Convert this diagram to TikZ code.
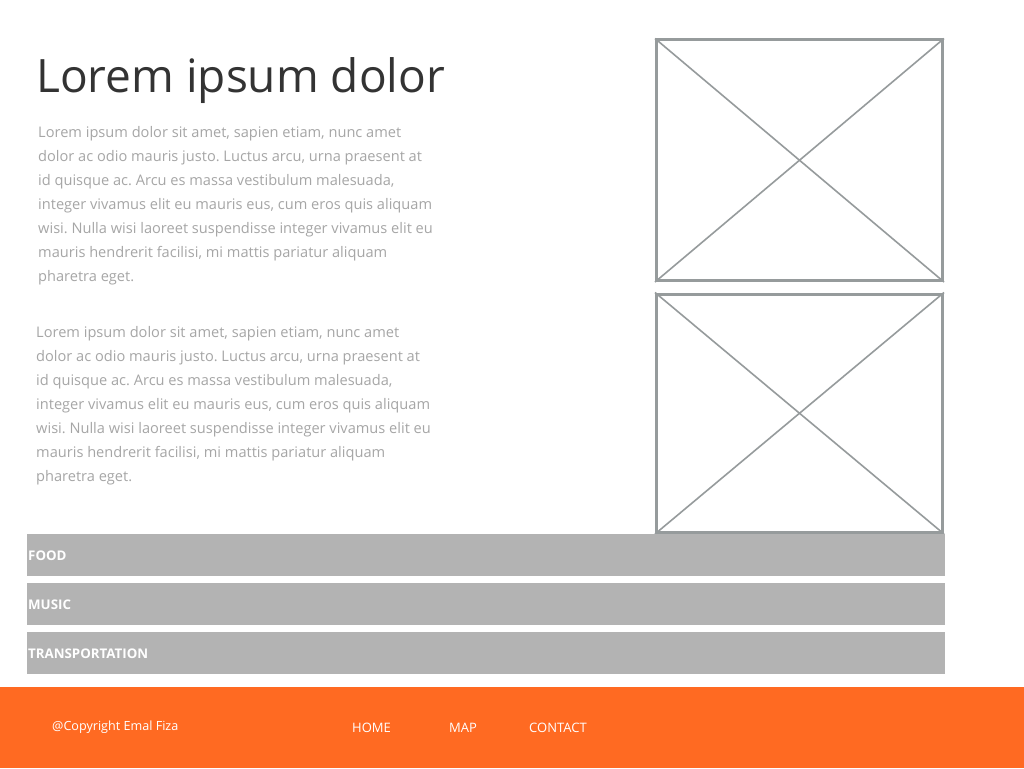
\documentclass[tikz,border=0pt]{standalone}
\usepackage{fontspec}
\setmainfont{Open Sans}
\frenchspacing
\definecolor{titlegray}{HTML}{333333}
\definecolor{bodygray}{HTML}{A6A6A6}
\definecolor{framegray}{HTML}{969B9C}
\definecolor{bargray}{HTML}{B3B3B3}
\definecolor{footorange}{HTML}{FF6A22}
\begin{document}
\begin{tikzpicture}[x=1pt,y=-1pt,
  title/.style={anchor=base west,inner sep=0pt,text=titlegray,font=\fontsize{46}{50}\selectfont},
  para/.style={anchor=north west,inner sep=0pt,align=left,text=bodygray,font=\fontsize{14.6}{24}\selectfont},
  imgbox/.style={draw=framegray,line width=3pt,minimum width=286pt,minimum height=240.5pt,inner sep=0pt,anchor=north west},
  cross/.style={draw=framegray,line width=1.6pt},
  bar/.style={fill=bargray,minimum width=918pt,minimum height=42pt,inner sep=0pt,anchor=north west},
  barlabel/.style={anchor=west,inner sep=0pt,text=white,font=\fontsize{13.3}{15}\selectfont\bfseries},
  footer/.style={fill=footorange,minimum width=1024pt,minimum height=81pt,inner sep=0pt,anchor=north west},
  footlink/.style={anchor=west,inner sep=0pt,text=white,font=\fontsize{13}{15}\selectfont}]
\useasboundingbox (0,0) rectangle (1024,768);
\fill[white] (0,0) rectangle (1024,768);

% heading and body copy
\node[title] (head) at (36,92) {Lorem ipsum dolor};
\node[para] (p1) at (38,120.5) {\strut Lorem ipsum dolor sit amet, sapien etiam, nunc amet\\
dolor ac odio mauris justo. Luctus arcu, urna praesent at\\
id quisque ac. Arcu es massa vestibulum malesuada,\\
integer vivamus elit eu mauris eus, cum eros quis aliquam\\
wisi. Nulla wisi laoreet suspendisse integer vivamus elit eu\\
mauris hendrerit facilisi, mi mattis pariatur aliquam\\
pharetra eget.};
\node[para] (p2) at (36,320.5) {\strut Lorem ipsum dolor sit amet, sapien etiam, nunc amet\\
dolor ac odio mauris justo. Luctus arcu, urna praesent at\\
id quisque ac. Arcu es massa vestibulum malesuada,\\
integer vivamus elit eu mauris eus, cum eros quis aliquam\\
wisi. Nulla wisi laoreet suspendisse integer vivamus elit eu\\
mauris hendrerit facilisi, mi mattis pariatur aliquam\\
pharetra eget.};

% image placeholders
\node[imgbox] (img1) at (655,38.5) {};
\draw[cross] (img1.north west) -- (img1.south east);
\draw[cross] (img1.north east) -- (img1.south west);
\node[imgbox,minimum height=238.5pt] (img2) at (655,292.5) {};
\draw[cross] (img2.north west) -- (img2.south east);
\draw[cross] (img2.north east) -- (img2.south west);

% category bars
\node[bar] (food) at (27,534) {};
\node[barlabel] (foodt) at (28,555.5) {FOOD};
\node[bar] (music) at (27,583) {};
\node[barlabel] (musict) at (28,604.5) {MUSIC};
\node[bar] (trans) at (27,632) {};
\node[barlabel] (transt) at (28,653.5) {TRANSPORTATION};

% footer
\node[footer] (foot) at (0,687) {};
\node[footlink,font=\fontsize{12.6}{15}\selectfont] (copy) at (52,727.5) {@Copyright Emal Fiza};
\node[footlink] (home) at (352,727.5) {HOME};
\node[footlink] (map) at (449,727.5) {MAP};
\node[footlink] (contact) at (529,727.5) {CONTACT};
\end{tikzpicture}
\end{document}
